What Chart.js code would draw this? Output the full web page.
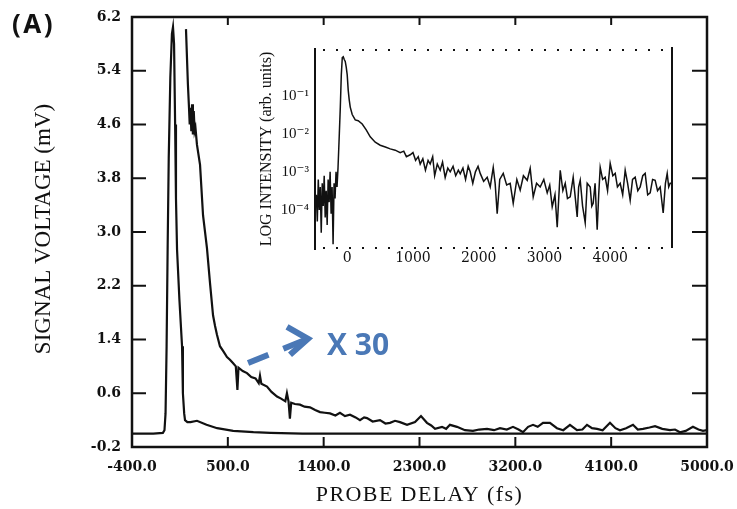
<!DOCTYPE html>
<html>
<head>
<meta charset="utf-8">
<script src="https://cdn.jsdelivr.net/npm/chart.js@4.4.1/dist/chart.umd.min.js"></script>
<style>
  html, body { margin: 0; padding: 0; background: #fff; }
  #wrap { position: relative; width: 737px; height: 509px; }
  #main { position: absolute; left: 0; top: 0; }
  #inset { position: absolute; left: 250px; top: 40px; }
</style>
</head>
<body>
<div id="wrap">
  <canvas id="main" width="737" height="509"></canvas>
  <canvas id="inset" width="440" height="235"></canvas>
</div>
<script>
// main panel axes
var xTicks = [-400, 500, 1400, 2300, 3200, 4100, 5000];
var yTicks = [-0.2, 0.6, 1.4, 2.2, 3.0, 3.8, 4.6, 5.4, 6.2];
var xTitle = 'PROBE DELAY (fs)';
var yTitle = 'SIGNAL VOLTAGE (mV)';

// raw trace (fs, mV)
var mainDelay = [-400, -200, -110, -95, -85, -75, -65, -55, -40, -25, -15, -5, 5, 13, 23, 45, 70, 78, 90, 98,
    120, 150, 210, 300, 400, 550, 740, 900, 1200, 2000, 3000, 4000, 5000];
var mainSignal = [0.0, 0.0, 0.01, 0.05, 0.3, 1.3, 2.8, 4.1, 5.3, 5.95, 6.05, 5.8, 4.6, 3.5, 2.74, 2.0, 1.3, 0.6, 0.3, 0.2,
    0.17, 0.17, 0.19, 0.13, 0.08, 0.04, 0.02, 0.01, 0.0, 0.0, 0.0, 0.0, 0.0];

// same trace scaled x30
var x30Delay = [107, 125, 135, 142, 150, 157, 164, 172, 180, 188, 196, 210, 239, 267, 304, 332, 361, 380, 398, 426,
    460, 492, 520, 548, 575, 590, 600, 640, 680, 720, 760, 790, 802, 815, 868, 910, 962, 1000, 1040, 1055,
    1070, 1083, 1095, 1130, 1178, 1220, 1272, 1320, 1366, 1410, 1460, 1510, 1553, 1600, 1647, 1700, 1741, 1780, 1807, 1860,
    1929, 1980, 2023, 2070, 2117, 2183, 2258, 2314, 2370, 2410, 2446, 2511, 2550, 2586, 2652, 2727, 2802, 2860, 2934, 3000,
    3056, 3120, 3178, 3230, 3272, 3320, 3366, 3410, 3460, 3525, 3591, 3650, 3713, 3779, 3830, 3873, 3920, 3967, 4020, 4089,
    4140, 4183, 4240, 4305, 4350, 4399, 4460, 4512, 4580, 4652, 4700, 4746, 4800, 4868, 4920, 4962, 5000];
var x30Signal = [6.02, 5.2, 4.86, 4.6, 4.85, 4.5, 4.9, 4.45, 4.8, 4.5, 4.55, 4.3, 4.0, 3.25, 2.76, 2.25, 1.76, 1.6, 1.47, 1.3,
    1.22, 1.14, 1.1, 1.05, 1.0, 0.65, 0.98, 0.93, 0.9, 0.84, 0.82, 0.75, 0.86, 0.74, 0.70, 0.62, 0.55, 0.52, 0.48, 0.6,
    0.48, 0.22, 0.46, 0.44, 0.43, 0.4, 0.39, 0.35, 0.32, 0.31, 0.30, 0.27, 0.31, 0.26, 0.28, 0.24, 0.2, 0.24, 0.23, 0.18,
    0.2, 0.15, 0.16, 0.19, 0.17, 0.13, 0.17, 0.26, 0.16, 0.12, 0.07, 0.1, 0.07, 0.13, 0.1, 0.05, 0.04, 0.06, 0.07, 0.05,
    0.08, 0.06, 0.1, 0.06, 0.02, 0.1, 0.13, 0.1, 0.16, 0.16, 0.08, 0.05, 0.13, 0.05, 0.06, 0.13, 0.08, 0.07, 0.05, 0.16,
    0.08, 0.05, 0.08, 0.13, 0.06, 0.07, 0.09, 0.11, 0.07, 0.05, 0.06, 0.02, 0.04, 0.1, 0.06, 0.04, 0.05];

// inset: log intensity vs delay
var inXTicks = [0, 1000, 2000, 3000, 4000];
var inYTicks = [1e-1, 1e-2, 1e-3, 1e-4];
var inYLabels = ['10\u207B\u00B9', '10\u207B\u00B2', '10\u207B\u00B3', '10\u207B\u2074'];
var inDelay = [-470, -455, -440, -425, -410, -395, -380, -365, -350, -335, -320, -305, -290, -275, -260, -245, -230, -215, -200, -185,
    -170, -155, -140, -120, -105, -90, -75, -60, -45, -30, -15, 0, 15, 30, 46, 76, 122, 167, 228, 289,
    350, 426, 502, 580, 654, 730, 806, 860, 900, 958, 1000, 1040, 1080, 1110, 1150, 1190, 1230, 1262, 1300, 1330,
    1370, 1414, 1450, 1490, 1530, 1567, 1610, 1650, 1690, 1719, 1760, 1800, 1840, 1871, 1910, 1950, 1990, 2023, 2075, 2129,
    2175, 2221, 2250, 2281, 2320, 2373, 2425, 2479, 2525, 2580, 2631, 2680, 2738, 2783, 2829, 2880, 2935, 2990, 3042, 3080,
    3118, 3160, 3194, 3240, 3280, 3316, 3350, 3392, 3437, 3470, 3498, 3520, 3544, 3580, 3620, 3650, 3696, 3720, 3741, 3770,
    3802, 3825, 3848, 3885, 3924, 3960, 4000, 4040, 4076, 4110, 4152, 4190, 4228, 4265, 4304, 4340, 4380, 4420, 4456, 4495,
    4532, 4570, 4608, 4645, 4684, 4720, 4760, 4806, 4840, 4867, 4890, 4912, 4935];
var inIntensity = [2.5e-4, 5e-5, 6.3e-4, 1e-4, 4e-4, 2.5e-5, 5e-4, 1.26e-4, 7.9e-4, 6.3e-5, 3.2e-4, 4e-5, 6.3e-4, 1.6e-4, 1e-3, 7.9e-5, 4e-4, 1.26e-5, 5e-4, 2e-4,
    1e-3, 4e-4, 1.26e-3, 0.01, 0.05, 0.35, 1.0, 1.05, 0.89, 0.79, 0.56, 0.35, 0.14, 0.079, 0.05, 0.032, 0.023, 0.022, 0.018, 0.0126,
    0.0083, 0.006, 0.005, 0.0045, 0.004, 0.0037, 0.0032, 0.0035, 0.0025, 0.0028, 0.0032, 0.002, 0.0025, 0.0016, 0.0022, 0.0011, 0.002, 0.0016, 0.0025, 7.9e-4,
    0.0016, 0.0011, 0.0018, 7.1e-4, 0.00126, 0.001, 0.0014, 7.9e-4, 0.0011, 8.9e-4, 0.00126, 6.3e-4, 0.0014, 0.001, 5e-4, 0.001, 0.0014, 9.1e-4, 5.6e-4, 7.2e-4,
    4e-4, 0.0013, 5e-4, 7.9e-5, 6.3e-4, 9.1e-4, 4.5e-4, 5e-4, 1.5e-4, 6.3e-4, 3.3e-4, 7.9e-4, 6e-4, 0.00123, 2.2e-4, 5e-4, 4e-4, 6.3e-4, 2.8e-4, 4.5e-4,
    1.2e-4, 2.5e-4, 3.5e-5, 0.0011, 3.2e-4, 5e-4, 2e-4, 2.2e-4, 7.2e-4, 2e-4, 6.5e-5, 4e-4, 6e-4, 1.26e-4, 4.6e-5, 5e-4, 4e-4, 1.26e-4, 1.5e-4, 5e-4,
    3e-5, 2.5e-4, 0.0013, 6.3e-4, 7.2e-4, 3.2e-4, 0.00166, 7.9e-4, 9.1e-4, 4e-4, 5e-4, 2.5e-4, 0.0011, 5e-4, 1.8e-4, 6.3e-4, 7.2e-4, 3.2e-4, 4e-4, 7.9e-4,
    9.1e-4, 2.5e-4, 2.8e-4, 6.3e-4, 6e-4, 3.2e-4, 4e-4, 8.3e-5, 5e-4, 9.1e-4, 4e-4, 5e-4, 5e-4];

// annotation anchors, in data units of the main panel
var arrowTail = { x: 690, y: 1.05 };
var arrowTip = { x: 1253, y: 1.41 };
var x30Label = { x: 1431, y: 1.17, text: 'X 30' };

var ink = '#111';
var blue = '#4a78b6';
var serif = "'Liberation Serif', 'DejaVu Serif', serif";
var wideSerif = "'DejaVu Serif', serif";

function pairs(xs, ys) {
    return xs.map(function(x, i) { return { x: x, y: ys[i] }; });
}

function setTicks(vals) {
    return function(scale) {
        scale.ticks = vals.map(function(v) { return { value: v }; });
    };
}

// fixed scale sizes so the plot box lands where the scan has it
function fitX(h) {
    return function(s) { s.height = h; s.paddingLeft = 0; s.paddingRight = 0; };
}
function fitY(w) {
    return function(s) { s.width = w; s.paddingTop = 0; s.paddingBottom = 0; };
}

var mainFrame = {
    id: 'mainFrame',
    afterDatasetsDraw: function(chart) {
        var ctx = chart.ctx, a = chart.chartArea;
        var sx = chart.scales.x, sy = chart.scales.y;
        ctx.save();
        ctx.strokeStyle = ink;
        ctx.lineWidth = 2.5;
        ctx.strokeRect(a.left, a.top, a.right - a.left, a.bottom - a.top);

        // inward tick marks on all four sides
        ctx.lineWidth = 2;
        ctx.beginPath();
        xTicks.slice(1, -1).forEach(function(v) {
            var px = sx.getPixelForValue(v);
            ctx.moveTo(px, a.bottom); ctx.lineTo(px, a.bottom - 10);
            ctx.moveTo(px, a.top); ctx.lineTo(px, a.top + 8);
        });
        yTicks.slice(1, -1).forEach(function(v) {
            var py = sy.getPixelForValue(v);
            ctx.moveTo(a.left, py); ctx.lineTo(a.left + 14, py);
            ctx.moveTo(a.right, py); ctx.lineTo(a.right - 15, py);
        });
        ctx.stroke();

        // axis titles, slightly letter-spaced like the scan
        ctx.fillStyle = ink;
        ctx.textAlign = 'center';
        ctx.textBaseline = 'middle';
        ctx.font = '22px ' + serif;
        ctx.letterSpacing = '1.4px';
        ctx.fillText(xTitle, (a.left + a.right) / 2, 495);
        ctx.letterSpacing = '0px';
        ctx.save();
        ctx.translate(44, 229);
        ctx.rotate(-Math.PI / 2);
        ctx.font = '23px ' + serif;
        ctx.fillText(yTitle, 0, 0);
        ctx.restore();

        // blue dashed arrow
        var x0 = sx.getPixelForValue(arrowTail.x), y0 = sy.getPixelForValue(arrowTail.y);
        var x1 = sx.getPixelForValue(arrowTip.x), y1 = sy.getPixelForValue(arrowTip.y);
        ctx.strokeStyle = blue;
        ctx.lineWidth = 6;
        ctx.lineCap = 'butt';
        ctx.setLineDash([22, 16, 30, 0]);
        ctx.beginPath();
        ctx.moveTo(x0, y0); ctx.lineTo(x1, y1);
        ctx.stroke();
        ctx.setLineDash([]);
        ctx.beginPath();
        ctx.moveTo(x1 - 21, y1 - 12);
        ctx.lineTo(x1, y1);
        ctx.lineTo(x1 - 18, y1 + 16);
        ctx.stroke();

        ctx.fillStyle = blue;
        ctx.font = "bold 30px 'Open Sans', 'Noto Sans', sans-serif";
        ctx.textBaseline = 'alphabetic';
        ctx.textAlign = 'left';
        ctx.fillText(x30Label.text, sx.getPixelForValue(x30Label.x), sy.getPixelForValue(x30Label.y));

        // panel label
        ctx.fillStyle = ink;
        ctx.font = "bold 26px 'Noto Sans', 'Open Sans', sans-serif";
        ctx.letterSpacing = '2.5px';
        ctx.fillText('(A)', 12, 33);
        ctx.letterSpacing = '0px';
        ctx.restore();
    }
};

var insetFrame = {
    id: 'insetFrame',
    afterDatasetsDraw: function(chart) {
        var ctx = chart.ctx, a = chart.chartArea;
        ctx.save();
        ctx.strokeStyle = ink;
        ctx.lineWidth = 2;
        ctx.beginPath();
        ctx.moveTo(a.left, a.top - 2); ctx.lineTo(a.left, a.bottom + 2);
        ctx.moveTo(a.right, a.top - 3); ctx.lineTo(a.right, a.bottom);
        ctx.stroke();
        ctx.setLineDash([2, 11]);
        ctx.beginPath();
        ctx.moveTo(a.left + 8, a.top); ctx.lineTo(a.right, a.top);
        ctx.moveTo(a.left + 8, a.bottom); ctx.lineTo(a.right, a.bottom);
        ctx.stroke();
        ctx.restore();
    }
};

new Chart(document.getElementById('main'), {
    type: 'line',
    data: {
        datasets: [
            { data: pairs(mainDelay, mainSignal), borderColor: ink, borderWidth: 2.2, pointRadius: 0, tension: 0 },
            { data: pairs(x30Delay, x30Signal), borderColor: ink, borderWidth: 2.2, pointRadius: 0, tension: 0 }
        ]
    },
    options: {
        responsive: false,
        animation: false,
        events: [],
        layout: { padding: { top: 17, right: 30, left: 0, bottom: 0 } },
        plugins: { legend: { display: false }, tooltip: { enabled: false } },
        scales: {
            x: {
                type: 'linear', min: -400, max: 5000,
                afterBuildTicks: setTicks(xTicks),
                afterFit: fitX(62),
                grid: { display: false, drawTicks: false },
                border: { display: false },
                ticks: {
                    autoSkip: false, maxRotation: 0, padding: 12, color: ink,
                    font: { family: wideSerif, weight: 'bold', size: 14 },
                    callback: function(v) { return Number(v).toFixed(1); }
                }
            },
            y: {
                type: 'linear', min: -0.2, max: 6.2,
                afterBuildTicks: setTicks(yTicks),
                afterFit: fitY(132),
                grid: { display: false, drawTicks: false },
                border: { display: false },
                ticks: {
                    autoSkip: false, padding: 11, color: ink,
                    font: { family: wideSerif, weight: 'bold', size: 14 },
                    callback: function(v) { return Number(v).toFixed(1); }
                }
            }
        }
    },
    plugins: [mainFrame]
});

new Chart(document.getElementById('inset'), {
    type: 'line',
    data: {
        datasets: [
            { data: pairs(inDelay, inIntensity), borderColor: ink, borderWidth: 1.5, pointRadius: 0, tension: 0 }
        ]
    },
    options: {
        responsive: false,
        animation: false,
        events: [],
        layout: { padding: { top: 10, right: 18, left: 0, bottom: 0 } },
        plugins: { legend: { display: false }, tooltip: { enabled: false } },
        scales: {
            x: {
                type: 'linear', min: -490, max: 4940,
                afterBuildTicks: setTicks(inXTicks),
                afterFit: fitX(27),
                grid: { display: false, drawTicks: false },
                border: { display: false },
                ticks: {
                    autoSkip: false, maxRotation: 0, padding: 2, color: ink,
                    font: { family: wideSerif, size: 14 },
                    callback: function(v) { return String(v); }
                }
            },
            y: {
                type: 'logarithmic', min: 1e-5, max: 1.58,
                afterBuildTicks: setTicks(inYTicks),
                afterFit: fitY(65),
                grid: { display: false, drawTicks: false },
                border: { display: false },
                ticks: {
                    autoSkip: false, padding: 6, color: ink,
                    font: { family: serif, size: 15 },
                    callback: function(v) {
                        var i = inYTicks.indexOf(v);
                        return i >= 0 ? inYLabels[i] : '';
                    }
                },
                title: {
                    display: true, text: 'LOG INTENSITY (arb. units)', color: ink,
                    font: { family: serif, size: 16 }, padding: { top: 7, bottom: 0 }
                }
            }
        }
    },
    plugins: [insetFrame]
});
</script>
</body>
</html>
